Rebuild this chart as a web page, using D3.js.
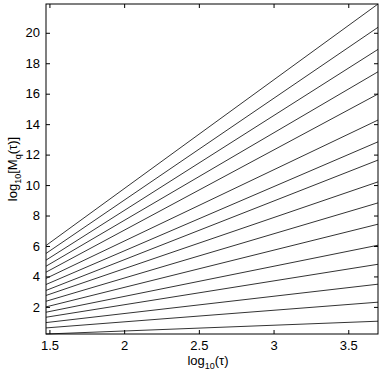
<!DOCTYPE html>
<html>
  <head>
    <script src="https://d3js.org/d3.v7.min.js"></script>
    <style>
      body { margin: 0; background: #fff; }
      text { font-family: "Liberation Sans", Arial, sans-serif; fill: #000; }
      .tick line { stroke: #000; }
    </style>
  </head>
  <body>
    <svg width="382" height="371"></svg>
    <script>
      // x range of each curve: log10(30) .. log10(5000)
      var xEnds = [1.477, 3.699];
      // log10 M_q at left and right end, lowest q first
      var leftVals = [0.22, 0.62, 0.97, 1.32, 1.65, 2.0, 2.37, 2.75, 3.08, 3.47, 3.87, 4.28, 4.67, 5.07, 5.51, 6.03];
      var rightVals = [1.06, 2.31, 3.49, 4.80, 6.05, 7.43, 8.83, 10.21, 11.64, 12.84, 14.27, 15.98, 17.44, 18.91, 20.36, 21.89];
      var xTicks = [1.5, 2, 2.5, 3, 3.5];
      var yTicks = [2, 4, 6, 8, 10, 12, 14, 16, 18, 20];

      var margin = { top: 4, right: 4, bottom: 37, left: 46 },
        width = 382 - margin.left - margin.right,
        height = 371 - margin.top - margin.bottom;

      var svg = d3.select("svg").append("g")
        .attr("transform", "translate(" + margin.left + "," + margin.top + ")");

      var x = d3.scaleLinear().domain(xEnds).range([0, width]);
      var y = d3.scaleLinear().domain([d3.min(leftVals), d3.max(rightVals)]).range([height, 0]);

      var fmt = function (d) { return d; };

      // ticks point inward on all four sides
      svg.append("g").attr("transform", "translate(0," + height + ")")
        .call(d3.axisBottom(x).tickValues(xTicks).tickSize(-4).tickPadding(7).tickFormat(fmt))
        .call(function (g) { g.select(".domain").remove(); });
      svg.append("g")
        .call(d3.axisTop(x).tickValues(xTicks).tickSize(-4).tickFormat(""))
        .call(function (g) { g.select(".domain").remove(); });
      svg.append("g")
        .call(d3.axisLeft(y).tickValues(yTicks).tickSize(-4).tickPadding(6).tickFormat(fmt))
        .call(function (g) { g.select(".domain").remove(); });
      svg.append("g").attr("transform", "translate(" + width + ",0)")
        .call(d3.axisRight(y).tickValues(yTicks).tickSize(-4).tickFormat(""))
        .call(function (g) { g.select(".domain").remove(); });

      svg.selectAll(".tick text").style("font-size", "13px").style("font-family", "Liberation Sans, Arial, sans-serif");

      var series = leftVals.map(function (v, i) {
        return [[xEnds[0], v], [xEnds[1], rightVals[i]]];
      });

      var line = d3.line().x(function (d) { return x(d[0]); }).y(function (d) { return y(d[1]); });

      svg.selectAll("path.curve").data(series).enter().append("path")
        .attr("class", "curve")
        .attr("d", line)
        .attr("fill", "none")
        .attr("stroke", "#000")
        .attr("stroke-width", 0.8);

      svg.append("rect")
        .attr("width", width).attr("height", height)
        .attr("fill", "none").attr("stroke", "#000").attr("stroke-width", 1);

      // x label
      var xl = svg.append("text")
        .attr("x", width / 2 - 4).attr("y", height + 31)
        .attr("text-anchor", "middle").style("font-size", "13px");
      xl.append("tspan").text("log");
      xl.append("tspan").attr("dy", 4).style("font-size", "9px").text("10");
      xl.append("tspan").attr("dy", -4).text("(τ)");

      // y label
      var yl = svg.append("text")
        .attr("transform", "translate(" + (-29) + "," + (height / 2) + ") rotate(-90)")
        .attr("text-anchor", "middle").style("font-size", "13px");
      yl.append("tspan").text("log");
      yl.append("tspan").attr("dy", 4).style("font-size", "9px").text("10");
      yl.append("tspan").attr("dy", -4).text("[M");
      yl.append("tspan").attr("dy", 4).style("font-size", "9px").text("q");
      yl.append("tspan").attr("dy", -4).text("(τ)]");
    </script>
  </body>
</html>
